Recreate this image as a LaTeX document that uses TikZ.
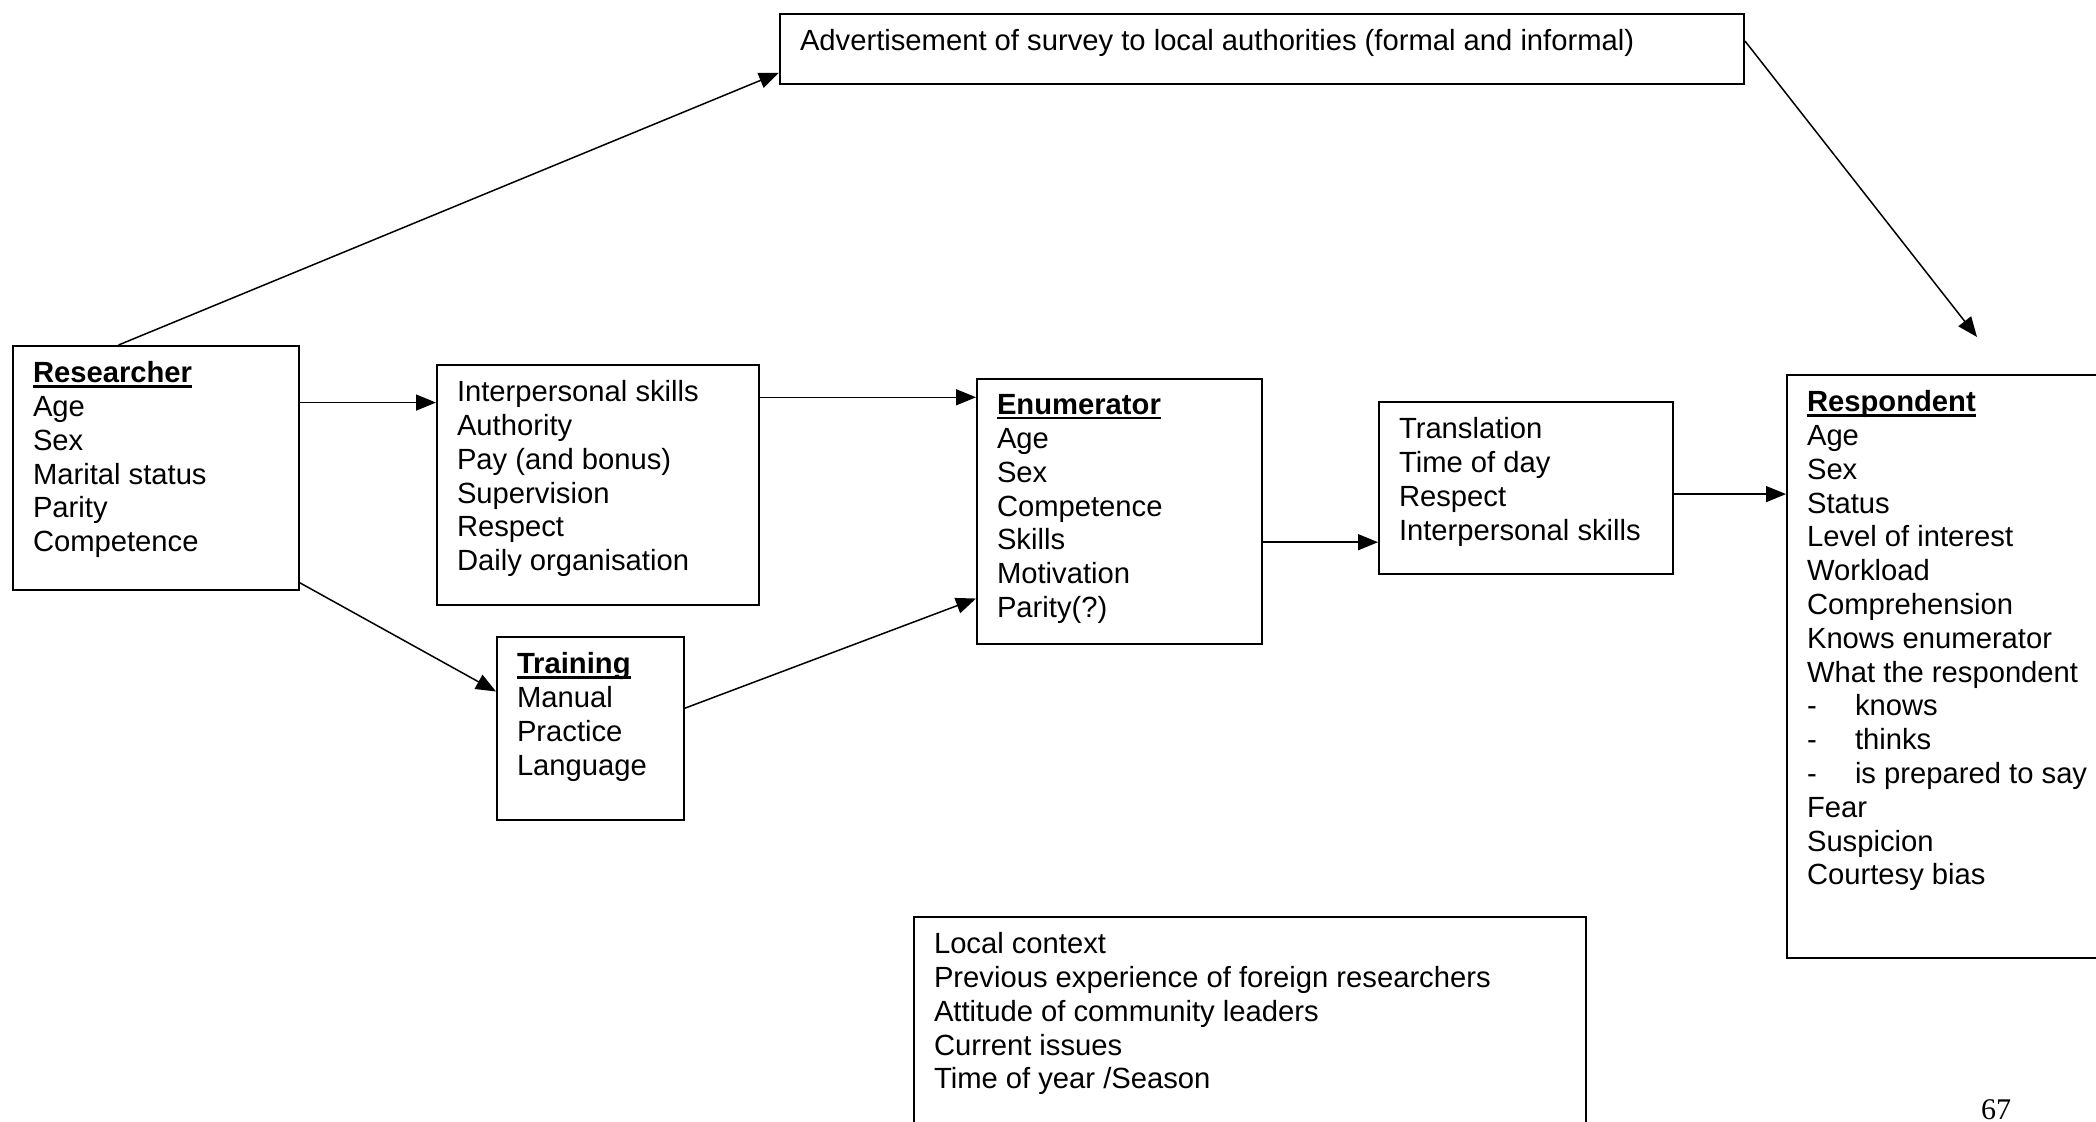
\documentclass[tikz,border=0pt]{standalone}
\usepackage{fontspec}
\setmainfont{Liberation Sans}
\newfontfamily\pagenumfont{Liberation Serif}
\usetikzlibrary{arrows.meta,calc}

% box content: width and height of the drawn box, then the lines
\newcommand{\factorlist}[3]{\parbox[c][\dimexpr#2-15.6pt\relax][t]{\dimexpr#1-20pt\relax}{\raggedright#3}}
\newcommand{\factorhead}[1]{\leavevmode\setbox0\hbox{\textbf{#1}}\rlap{\rule[-2.4pt]{\wd0}{1.2pt}}\box0}
\newcommand{\dashitem}[1]{\makebox[24pt][l]{-}#1}

\tikzset{
	factor/.style={draw, line width=1pt, anchor=north west, inner xsep=10pt, inner ysep=7.8pt,
		font=\fontsize{14.6}{16.9}\selectfont},
	flow/.style={-{Triangle[length=10pt,width=8pt]}, line width=0.75pt}
}

\begin{document}
\begin{tikzpicture}[x=0.5pt,y=-0.5pt]
	\clip (0,0) rectangle (2096,1122);

	% boxes
	\node[factor] (adv) at (779,13) {\factorlist{482pt}{35pt}{Advertisement of survey to local authorities (formal and informal)}};
	\node[factor] (res) at (12,345) {\factorlist{143pt}{122pt}{\factorhead{Researcher}\\Age\\Sex\\Marital status\\Parity\\Competence}};
	\node[factor] (int) at (436,364) {\factorlist{161pt}{120pt}{Interpersonal skills\\Authority\\Pay (and bonus)\\Supervision\\Respect\\Daily organisation}};
	\node[factor] (trn) at (496,636) {\factorlist{93.5pt}{91.5pt}{\factorhead{Training}\\Manual\\Practice\\Language}};
	\node[factor] (enu) at (976,378) {\factorlist{142.5pt}{132.5pt}{\factorhead{Enumerator}\\Age\\Sex\\Competence\\Skills\\Motivation\\Parity(?)}};
	\node[factor] (trl) at (1378,401) {\factorlist{147pt}{86pt}{Translation\\Time of day\\Respect\\Interpersonal skills}};
	\node[factor] (resp) at (1786,374) {\factorlist{165pt}{291.5pt}{\factorhead{Respondent}\\Age\\Sex\\Status\\Level of interest\\Workload\\Comprehension\\Knows enumerator\\What the respondent\\\dashitem{knows}\\\dashitem{thinks}\\\dashitem{is prepared to say}\\Fear\\Suspicion\\Courtesy bias}};
	\node[factor] (ctx) at (913,916) {\factorlist{336pt}{112pt}{Local context\\Previous experience of foreign researchers\\Attitude of community leaders\\Current issues\\Time of year /Season}};
	\node[anchor=base, font=\pagenumfont\fontsize{15}{18}\selectfont] (pagenum) at (1996,1119) {67};

	% connectors
	\coordinate (cue) at (1977,337);
	\draw[flow] ($(res.north west)!.37!(res.north east)$) -- ($(adv.north west)!.83!(adv.south west)$);
	\draw[flow] ($(adv.north east)!.39!(adv.south east)$) -- (cue);
	\draw[flow] ($(res.north east)!.234!(res.south east)$) coordinate (r1) -- (r1 -| int.west);
	\draw[flow] ($(res.north east)!.967!(res.south east)$) -- ($(trn.north west)!.30!(trn.south west)$);
	\draw[flow] ($(int.north east)!.1375!(int.south east)$) coordinate (i1) -- (i1 -| enu.west);
	\draw[flow] ($(trn.north east)!.39!(trn.south east)$) -- ($(enu.north west)!.826!(enu.south west)$);
	\draw[flow] ($(enu.north east)!.615!(enu.south east)$) coordinate (e1) -- (e1 -| trl.west);
	\draw[flow] ($(trl.north east)!.535!(trl.south east)$) coordinate (t1) -- (t1 -| resp.west);
\end{tikzpicture}
\end{document}
